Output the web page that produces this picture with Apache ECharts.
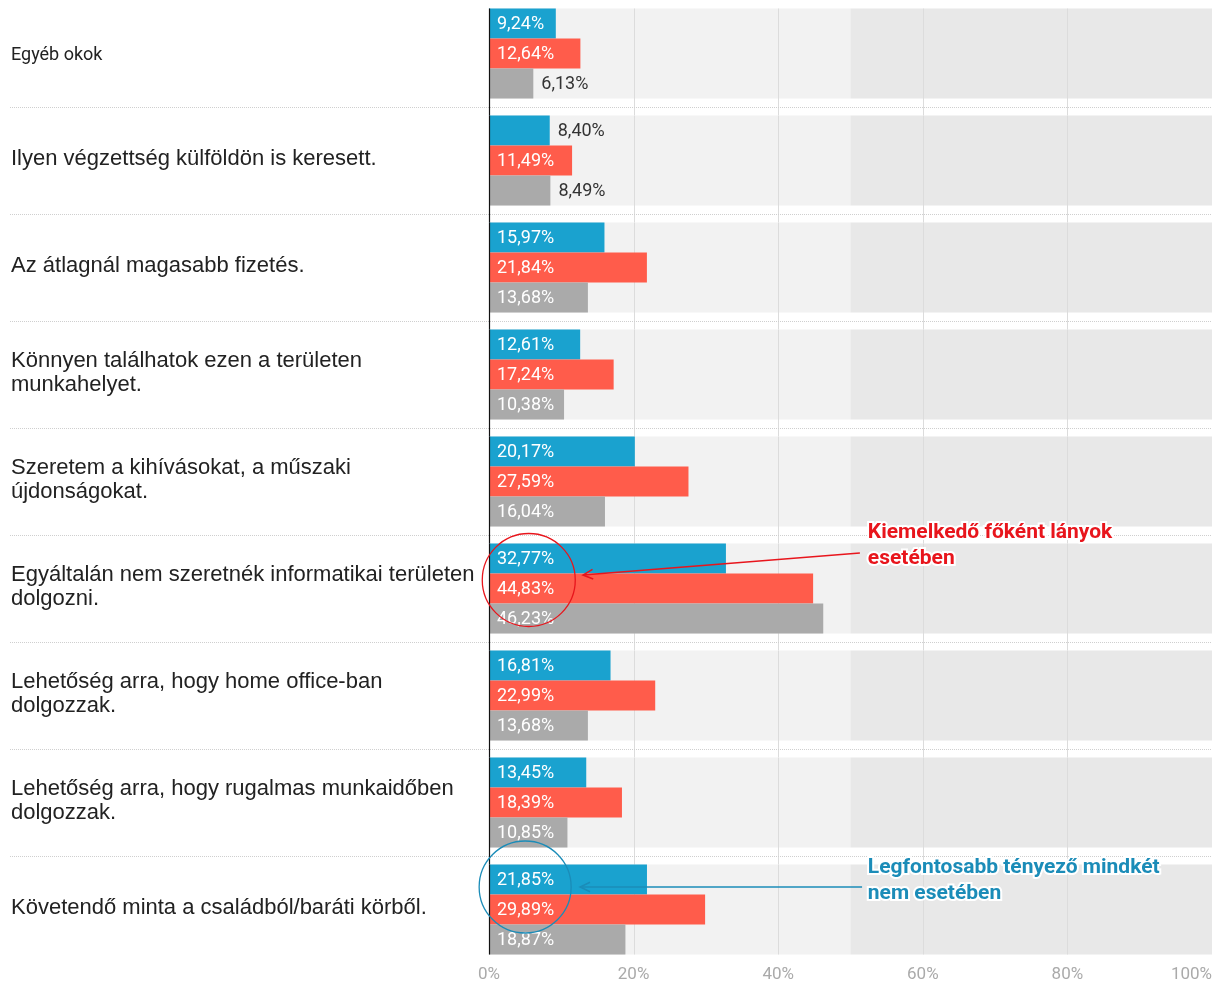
<!DOCTYPE html>
<html>
<head>
<meta charset="utf-8">
<script src="https://cdn.jsdelivr.net/npm/echarts@6/dist/echarts.min.js"></script>
<style>
  html, body { margin: 0; padding: 0; background: #fff; }
  #chart { width: 1218px; height: 982px; }
</style>
</head>
<body>
<div id="chart"></div>
<script>
// Reasons, top to bottom
const categories = [
  'Egyéb okok',
  'Ilyen végzettség külföldön is keresett.',
  'Az átlagnál magasabb fizetés.',
  'Könnyen találhatok ezen a területen\nmunkahelyet.',
  'Szeretem a kihívásokat, a műszaki\nújdonságokat.',
  'Egyáltalán nem szeretnék informatikai területen\ndolgozni.',
  'Lehetőség arra, hogy home office-ban\ndolgozzak.',
  'Lehetőség arra, hogy rugalmas munkaidőben\ndolgozzak.',
  'Követendő minta a családból/baráti körből.'
];
const fiuk    = [9.24, 8.40, 15.97, 12.61, 20.17, 32.77, 16.81, 13.45, 21.85];
const lanyok  = [12.64, 11.49, 21.84, 17.24, 27.59, 44.83, 22.99, 18.39, 29.89];
const osszes  = [6.13, 8.49, 13.68, 10.38, 16.04, 46.23, 13.68, 10.85, 18.87];
const xTicks  = [0, 20, 40, 60, 80, 100];

const BAR_W = 30;
const BAND_H = BAR_W * 3;

const fmt = v => v.toFixed(2).replace('.', ',') + '%';

function barData(values) {
  return values.map(v => ({
    value: v,
    label: v < 9
      ? { position: 'right', distance: 8, color: '#333' }
      : { position: 'insideLeft', distance: 8, color: '#fff' }
  }));
}

function barSeries(name, color, values) {
  return {
    name: name,
    type: 'bar',
    z: 2,
    barWidth: BAR_W,
    barGap: '0%',
    itemStyle: { color: color },
    label: {
      show: true,
      fontFamily: 'Roboto',
      fontSize: 18,
      offset: [0, 1],
      formatter: p => fmt(p.value)
    },
    data: barData(values)
  };
}

const chart = echarts.init(document.getElementById('chart'));
const last = categories.length - 1;

// Row bands, grid lines and separators behind the bars
function renderBands(params, api) {
  const i = api.value(1);
  const c = api.coord([0, i]);
  const pitch = api.size([0, 1])[1];
  const top = c[1] - BAND_H / 2;
  const bottom = c[1] + BAND_H / 2;
  const x0 = api.coord([0, i])[0];
  const x50 = api.coord([50, i])[0];
  const x100 = api.coord([100, i])[0];
  const lineBottom = i === last ? bottom : top + pitch;
  const children = [
    { type: 'rect', shape: { x: x0, y: top, width: x50 - x0, height: BAND_H }, style: { fill: '#f2f2f2' } },
    { type: 'rect', shape: { x: x50, y: top, width: x100 - x50, height: BAND_H }, style: { fill: '#e8e8e8' } }
  ];
  xTicks.slice(1, -1).forEach(t => {
    const x = Math.round(api.coord([t, i])[0]) + 0.5;
    children.push({ type: 'line', shape: { x1: x, y1: top, x2: x, y2: lineBottom }, style: { stroke: '#dcdcdc', lineWidth: 1 } });
  });
  if (i !== last) {
    const y = Math.round(c[1] + pitch / 2) + 0.5;
    children.push({ type: 'line', shape: { x1: 10, y1: y, x2: x100, y2: y }, style: { stroke: '#cfcfcf', lineWidth: 1, lineDash: [1, 1] } });
  }
  return { type: 'group', children: children };
}

// Zero line drawn over the bars
function renderZero(params, api) {
  const i = api.value(1);
  const c = api.coord([0, i]);
  const pitch = api.size([0, 1])[1];
  const top = c[1] - BAND_H / 2;
  const bottom = i === last ? c[1] + BAND_H / 2 : top + pitch;
  const x = Math.round(c[0]) + 0.5;
  return { type: 'line', shape: { x1: x, y1: top, x2: x, y2: bottom }, style: { stroke: '#111', lineWidth: 1.2 } };
}

const rowData = categories.map((c, i) => [0, i]);

chart.setOption({
  animation: false,
  grid: { left: 489, right: 6, top: 0, height: 963, outerBoundsMode: 'none', containLabel: false },
  xAxis: {
    type: 'value',
    min: 0,
    max: 100,
    interval: 20,
    axisLine: { show: false },
    axisTick: { show: false },
    splitLine: { show: false },
    axisLabel: {
      formatter: '{value}%',
      color: '#aaaaaa',
      fontFamily: 'Roboto',
      fontSize: 17,
      margin: 3,
      alignMaxLabel: 'right'
    }
  },
  yAxis: {
    type: 'category',
    inverse: true,
    data: categories,
    axisLine: { show: false },
    axisTick: { show: false },
    axisLabel: {
      align: 'left',
      margin: 478,
      color: '#222',
      fontFamily: 'Liberation Sans',
      fontSize: 22,
      lineHeight: 24,
      padding: [0, 0, 4, 0],
      // the first reason is set in a smaller face
      formatter: (v, i) => i === 0 ? '{s|' + v + '}' : v,
      rich: { s: { fontFamily: 'Roboto', fontSize: 18, color: '#222', padding: [8, 0, 0, 0] } }
    }
  },
  series: [
    { type: 'custom', z: 1, silent: true, clip: false, renderItem: renderBands, encode: { x: 0, y: 1 }, data: rowData },
    barSeries('Fiúk', '#1aa2cf', fiuk),
    barSeries('Lányok', '#ff5c4b', lanyok),
    barSeries('Összes', '#aaaaaa', osszes),
    { type: 'custom', z: 3, silent: true, clip: false, renderItem: renderZero, encode: { x: 0, y: 1 }, data: rowData }
  ]
});

// Callouts
const px = (v, i) => chart.convertToPixel({ gridIndex: 0 }, [v, i]);

function arrow(from, to, color) {
  const ang = Math.atan2(from[1] - to[1], from[0] - to[0]);
  const len = 11, spread = 0.45;
  const a = [to[0] + len * Math.cos(ang + spread), to[1] + len * Math.sin(ang + spread)];
  const b = [to[0] + len * Math.cos(ang - spread), to[1] + len * Math.sin(ang - spread)];
  return [
    { type: 'line', z: 100, shape: { x1: from[0], y1: from[1], x2: to[0], y2: to[1] }, style: { stroke: color, lineWidth: 1.5 } },
    { type: 'polyline', z: 100, shape: { points: [a, to, b] }, style: { stroke: color, lineWidth: 1.5, fill: null } }
  ];
}

function note(text, pos, color) {
  return {
    type: 'text', z: 101, x: pos[0], y: pos[1],
    style: {
      text: text,
      fill: color,
      stroke: '#fff',
      lineWidth: 4,
      font: 'bold 21px Roboto',
      lineHeight: 26,
      verticalAlign: 'middle',
      align: 'left'
    }
  };
}

const redC = '#e8151c';
const blueC = '#1b8cb8';
const rc = px(5.5, 5);
const bc = px(5, 8);
const rStart = px(51.3, 5), rEnd = px(13, 5);
const bStart = px(51.6, 8), bEnd = px(12.6, 8);
const tRed = px(52.4, 5), tBlue = px(52.4, 8);

chart.setOption({
  graphic: [
    { type: 'circle', z: 100, shape: { cx: rc[0], cy: rc[1] - 8.5, r: 46.5 }, style: { stroke: redC, lineWidth: 1.3, fill: null } },
    ...arrow([rStart[0], rStart[1] - 35.5], [rEnd[0], rEnd[1] - 13.5], redC),
    note('Kiemelkedő főként lányok\nesetében', [tRed[0], tRed[1] - 43], redC),
    { type: 'circle', z: 100, shape: { cx: bc[0], cy: bc[1] - 22.5, r: 46 }, style: { stroke: blueC, lineWidth: 1.3, fill: null } },
    ...arrow([bStart[0], bStart[1] - 22.5], [bEnd[0], bEnd[1] - 22.5], blueC),
    note('Legfontosabb tényező mindkét\nnem esetében', [tBlue[0], tBlue[1] - 28.5], blueC)
  ]
});
</script>
</body>
</html>
